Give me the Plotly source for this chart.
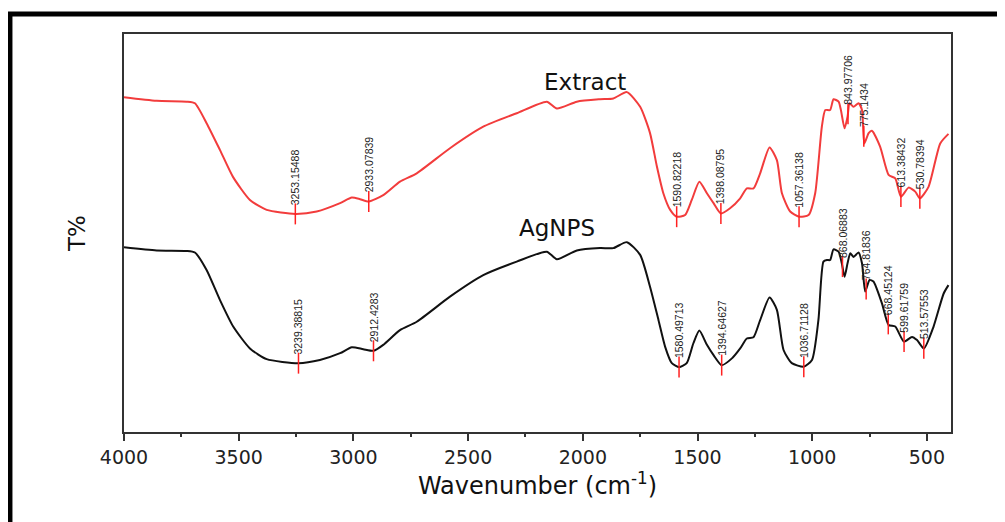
import numpy as np
import plotly.graph_objects as go

# ---- data (T% in arbitrary units) ----
extract_wn = [4000, 3858, 3727, 3691, 3640, 3582, 3525, 3451, 3378, 3253, 3160, 3058, 3007, 2971, 2933,
              2870, 2797, 2724, 2579, 2434, 2288, 2157, 2113, 2026, 1925, 1867, 1808, 1750, 1707, 1677,
              1649, 1619, 1591, 1554, 1525, 1492, 1459, 1430, 1398, 1358, 1314, 1285, 1256, 1227, 1186,
              1154, 1132, 1096, 1057, 1016, 987, 958, 943, 922, 907, 885, 875, 859, 846, 837, 820, 798,
              783, 773, 754, 740, 704, 667, 638, 613, 580, 551, 531, 493, 442, 406]
extract_t = [84.1, 83.2, 83.0, 82.6, 77.6, 70.9, 64.1, 58.3, 55.8, 54.8, 55.4, 57.5, 58.9, 58.5, 57.9,
             59.5, 62.9, 65.0, 71.3, 76.7, 80.1, 83.0, 81.3, 83.0, 83.6, 83.8, 85.4, 81.7, 75.1, 66.7,
             60.0, 55.8, 54.1, 54.5, 58.3, 62.9, 60.0, 57.5, 54.9, 56.2, 58.7, 61.2, 61.2, 65.0, 71.5,
             68.3, 60.0, 55.4, 54.1, 54.5, 60.0, 76.7, 80.9, 80.9, 83.6, 83.0, 80.9, 76.3, 79.2, 82.6, 81.7, 82.6,
             80.9, 72.5, 75.1, 75.7, 71.7, 64.6, 63.7, 59.1, 61.4, 60.4, 58.7, 61.6, 72.5, 74.9]

agnps_wn = [4000, 3858, 3727, 3691, 3640, 3582, 3524, 3451, 3378, 3240, 3146, 3058, 3007, 2957, 2912,
            2870, 2797, 2724, 2579, 2434, 2288, 2157, 2113, 2026, 1925, 1867, 1808, 1750, 1707, 1670,
            1641, 1612, 1580, 1547, 1518, 1492, 1459, 1430, 1395, 1350, 1314, 1285, 1256, 1227, 1186,
            1154, 1125, 1089, 1037, 1001, 973, 951, 936, 922, 907, 885, 871, 859, 846, 834, 820, 798,
            783, 769, 750, 733, 696, 667, 638, 600, 565, 543, 513, 471, 427, 406]
agnps_t = [46.4, 45.6, 45.5, 45.1, 40.7, 33.2, 26.5, 21.0, 18.3, 17.3, 18.1, 19.8, 21.3, 20.8, 20.4,
           21.9, 25.6, 27.7, 34.0, 39.4, 42.8, 45.3, 43.4, 45.6, 46.2, 46.2, 47.7, 44.5, 36.5, 28.1,
           21.4, 17.3, 16.3, 17.3, 22.3, 25.5, 21.9, 19.3, 16.8, 18.5, 21.0, 23.5, 23.8, 28.1, 33.8,
           30.7, 20.6, 17.3, 16.4, 18.1, 28.1, 42.8, 43.2, 43.2, 45.9, 45.3, 42.4, 39.0, 42.4, 44.9, 44.0, 45.1,
           42.4, 35.3, 38.2, 37.8, 32.3, 26.9, 26.5, 22.7, 23.9, 23.1, 21.0, 26.5, 34.8, 36.9]

extract_peaks = [3253.15488, 2933.07839, 1590.82218, 1398.08795, 1057.36138,
                 843.97706, 775.1434, 613.38432, 530.78394]
agnps_peaks = [3239.38815, 2912.4283, 1580.49713, 1394.64627, 1036.71128,
               868.06883, 764.81836, 668.45124, 599.61759, 513.57553]

series_names = ["Extract", "AgNPS"]
x_ticks = [4000, 3500, 3000, 2500, 2000, 1500, 1000, 500]

RED = "#f23c3c"
BLACK = "#111111"


def interp(wn, t, x):
    return float(np.interp(x, np.array(wn)[::-1], np.array(t)[::-1]))


fig = go.Figure()
fig.add_trace(go.Scatter(x=extract_wn, y=extract_t, mode="lines", name=series_names[0],
                         line=dict(color=RED, width=2, shape="spline", smoothing=0.6)))
fig.add_trace(go.Scatter(x=agnps_wn, y=agnps_t, mode="lines", name=series_names[1],
                         line=dict(color=BLACK, width=2, shape="spline", smoothing=0.6)))

annotations = []
for wn, t, peaks in [(extract_wn, extract_t, extract_peaks), (agnps_wn, agnps_t, agnps_peaks)]:
    ys = [interp(wn, t, p) for p in peaks]
    fig.add_trace(go.Scatter(x=peaks, y=ys, mode="markers", showlegend=False, hoverinfo="skip",
                             marker=dict(symbol="line-ns", size=15,
                                         line=dict(color="#ff2020", width=1.5))))
    for p, y in zip(peaks, ys):
        annotations.append(dict(x=p, y=y, xref="x", yref="y", text=str(p),
                                textangle=-90, showarrow=False, xanchor="center", yanchor="bottom",
                                yshift=7,
                                font=dict(family="Liberation Sans Narrow, Arial Narrow, Liberation Sans, Arial",
                                          size=10.5, color="#222222")))

annotations.append(dict(x=1990, y=88, xref="x", yref="y", text=series_names[0], showarrow=False,
                        xanchor="center", yanchor="middle",
                        font=dict(family="DejaVu Sans", size=23, color="#111111")))
annotations.append(dict(x=2112, y=51.3, xref="x", yref="y", text=series_names[1], showarrow=False,
                        xanchor="center", yanchor="middle",
                        font=dict(family="DejaVu Sans", size=23, color="#111111")))

fig.update_layout(
    width=1005, height=522,
    margin=dict(l=116, r=62, t=26, b=98),
    paper_bgcolor="white", plot_bgcolor="white",
    showlegend=False,
    annotations=annotations,
    shapes=[dict(type="rect", xref="paper", yref="paper",
                 x0=-0.1379, x1=1.2, y0=-0.4, y1=1.0503,
                 line=dict(color="black", width=5), layer="below")],
)

fig.update_xaxes(
    range=[4000, 395], tickvals=x_ticks, ticktext=[str(v) for v in x_ticks],
    showgrid=False, zeroline=False,
    showline=True, linecolor="#333333", linewidth=1.5, mirror=True,
    ticks="outside", ticklen=7, tickwidth=1.5, tickcolor="#333333",
    minor=dict(dtick=250, tick0=0, ticks="outside", ticklen=3, tickwidth=1.5, tickcolor="#333333", showgrid=False),
    tickfont=dict(family="DejaVu Sans", size=19, color="#222222"),
    title=dict(text="Wavenumber (cm<sup>-1</sup>)", standoff=11,
               font=dict(family="DejaVu Sans", size=24, color="#111111")),
)
fig.update_yaxes(
    range=[0, 100], showticklabels=False, ticks="",
    showgrid=False, zeroline=False,
    showline=True, linecolor="#333333", linewidth=1.5, mirror=True,
    title=dict(text="T%", standoff=30, font=dict(family="DejaVu Sans", size=23, color="#111111")),
)

fig.write_html("out.html")
